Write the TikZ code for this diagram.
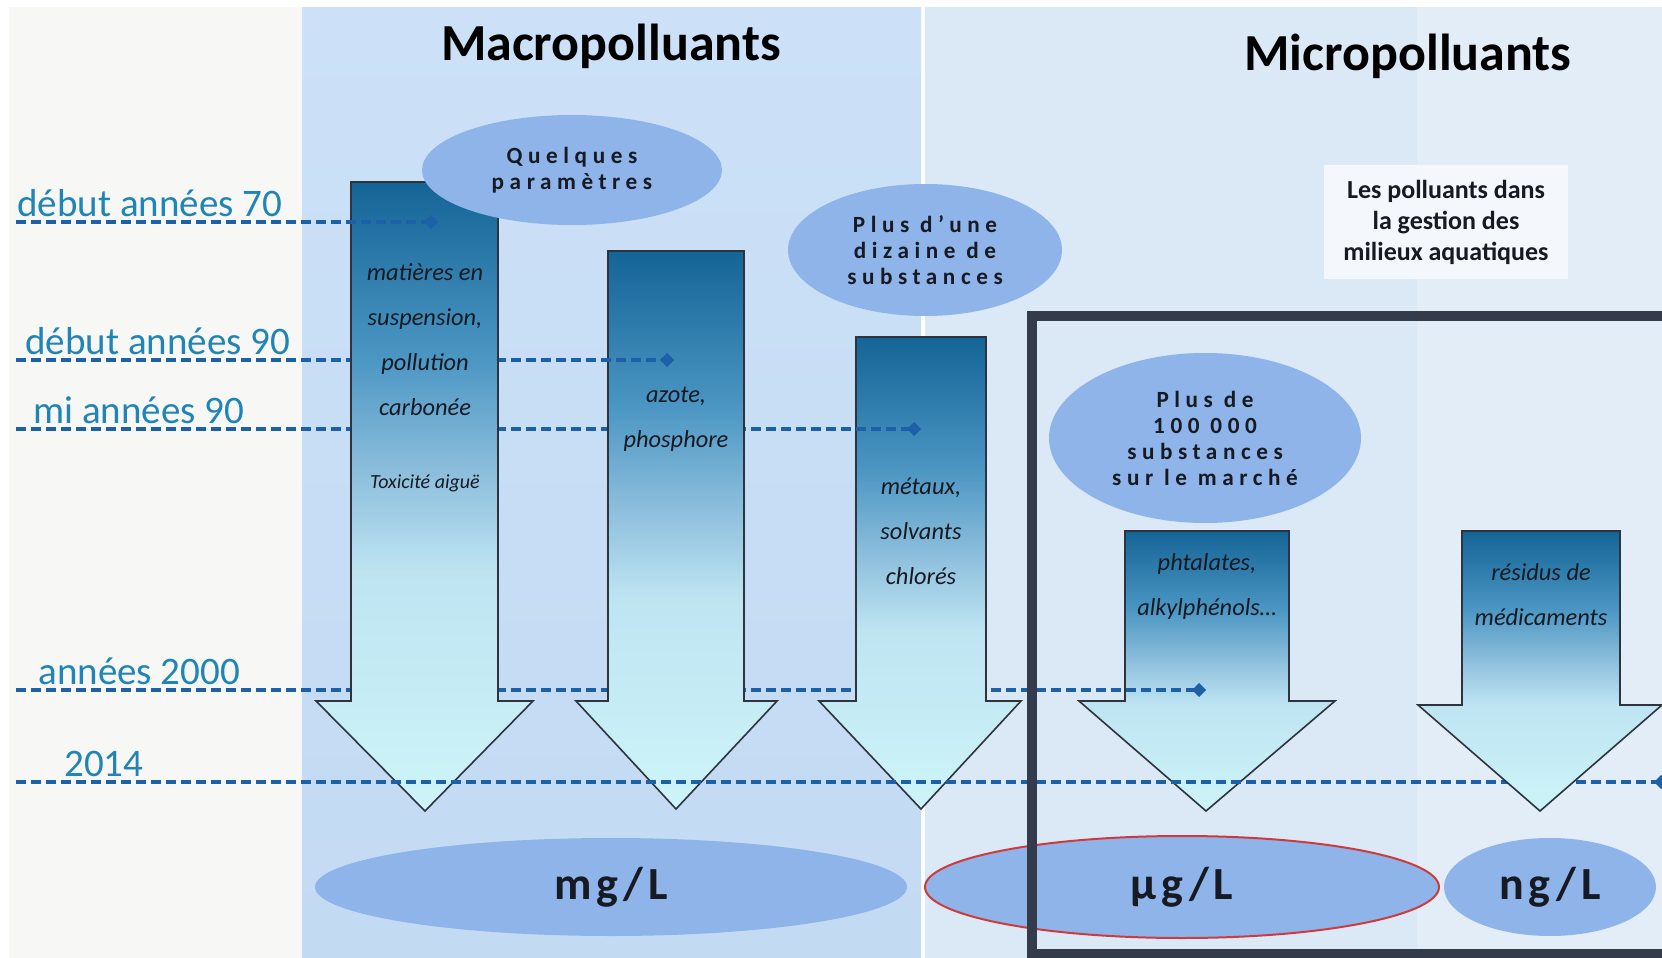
\documentclass[tikz,border=0pt]{standalone}
\usepackage{fontspec}
\setmainfont{Carlito}
\newfontfamily\espace[LetterSpace=24]{Carlito}
\newfontfamily\espaceunite[LetterSpace=10]{Carlito}
\usetikzlibrary{arrows.meta,shapes.geometric}

\definecolor{fondgauche}{RGB}{247,247,245}
\definecolor{macrohaut}{RGB}{204,225,247}
\definecolor{macrobas}{RGB}{195,218,243}
\definecolor{microfond}{RGB}{219,232,246}
\definecolor{microclair}{RGB}{227,237,248}
\definecolor{flbas}{RGB}{205,245,248}
\definecolor{flclair}{RGB}{190,228,242}
\definecolor{flmoyenb}{RGB}{140,190,220}
\definecolor{flmoyen}{RGB}{75,150,195}
\definecolor{flhaut}{RGB}{20,100,150}
\definecolor{contour}{RGB}{45,52,62}
\definecolor{bleuligne}{RGB}{28,96,168}
\definecolor{bleudate}{RGB}{32,132,182}
\definecolor{bleubulle}{RGB}{142,180,234}
\definecolor{cadrefonce}{RGB}{52,60,75}
\definecolor{rougebord}{RGB}{205,60,60}
\definecolor{encre}{RGB}{22,26,34}

\pgfdeclareverticalshading{degrade}{100bp}{color(0bp)=(flbas); color(25bp)=(flbas); color(44bp)=(flclair); color(52bp)=(flmoyenb); color(61bp)=(flmoyen); color(75bp)=(flhaut); color(100bp)=(flhaut)}

\tikzset{
  fleche/.style={shading=degrade, draw=contour, line width=0.8pt},
  repere/.style={draw=bleuligne, line width=2pt, dash pattern=on 5pt off 2.5pt, -{Diamond[length=7pt,width=7pt]}},
  date/.style={text=bleudate, font=\fontsize{19.5}{22}\selectfont, inner sep=0pt, anchor=base west},
  titre/.style={text=black, font=\bfseries\fontsize{26}{30}\selectfont, inner sep=0pt, anchor=base},
  bulle/.style={ellipse, fill=bleubulle, inner sep=0pt, align=center, text=encre, font=\espace\bfseries\fontsize{11.6}{13}\selectfont},
  unite/.style={ellipse, fill=bleubulle, inner sep=0pt, text=encre, font=\espaceunite\bfseries\fontsize{23}{26}\selectfont},
  contenu/.style={align=center, inner sep=0pt, text=encre, font=\itshape\fontsize{12.2}{22.5}\selectfont}
}

\begin{document}
\begin{tikzpicture}[x=0.5pt,y=-0.5pt]
\useasboundingbox (0,0) rectangle (1662,958);
% fonds
\fill[white] (0,0) rectangle (1662,958);
\fill[fondgauche] (9,7) rectangle (302,958);
\shade[top color=macrohaut, bottom color=macrobas] (302,7) rectangle (921,958);
\fill[microfond] (925,7) rectangle (1662,958);
\fill[microclair] (1417,7) rectangle (1662,958);

% reperes de temps
\coordinate (g70) at (16,222);   \coordinate (f70) at (438,222);
\coordinate (g90) at (16,360);   \coordinate (f90) at (674,360);
\coordinate (gmi) at (16,429);   \coordinate (fmi) at (921,429);
\coordinate (g00) at (16,690);   \coordinate (f00) at (1206,690);
\coordinate (g14) at (16,782);   \coordinate (f14) at (1668,782);

% fleche 4 puis annees 2000
\shade[fleche] (1125,531) -- (1289,531) -- (1289,701) -- (1335,701) -- (1206,811) -- (1079,701) -- (1125,701) -- cycle;
\draw[repere] (g00) -- (f00);
% fleche 3 puis mi annees 90
\shade[fleche] (856,337) -- (986,337) -- (986,701) -- (1021,701) -- (921,809) -- (819,701) -- (856,701) -- cycle;
\draw[repere] (gmi) -- (fmi);
% fleche 2 puis debut annees 90
\shade[fleche] (608,251) -- (744,251) -- (744,701) -- (777,701) -- (676,809) -- (576,701) -- (608,701) -- cycle;
\draw[repere] (g90) -- (f90);
% fleche 1 puis debut annees 70
\shade[fleche] (351,182) -- (498,182) -- (498,701) -- (533,701) -- (425,811) -- (316,701) -- (351,701) -- cycle;
\draw[repere] (g70) -- (f70);
% 2014
\draw[repere] (g14) -- (f14);
\shade[fleche] (1462,531) -- (1620,531) -- (1620,705) -- (1662,705) -- (1540,811) -- (1418,705) -- (1462,705) -- cycle;

% dates
\node[date] (d70) at (17,216) {début années 70};
\node[date] (d90) at (25,354) {début années 90};
\node[date] (dmi) at (33,423) {mi années 90};
\node[date] (d00) at (38,684) {années 2000};
\node[date] (d14) at (64,776) {2014};

% titres
\node[titre] (macro) at (611,61) {Macropolluants};
\node[titre] (micro) at (1408,70) {Micropolluants};

% bulles
\node[bulle, minimum width=150pt, minimum height=55pt] (quelques) at (572,170) {Quelques\\paramètres};
\node[bulle, minimum width=137pt, minimum height=66pt] (dizaine) at (925,250) {Plus d’une\\dizaine de\\substances};
\node[bulle, minimum width=156pt, minimum height=85pt] (marche) at (1205,438) {Plus de\\100 000\\substances\\sur le marché};

% contenu des fleches
\node[contenu] (mes) at (425,340) {matières en\\suspension,\\pollution\\carbonée};
\node[contenu, font=\itshape\fontsize{10}{12}\selectfont] (toxi) at (425,483) {Toxicité aiguë};
\node[contenu] (azote) at (676,419) {azote,\\phosphore};
\node[contenu] (metaux) at (921,531) {métaux,\\solvants\\chlorés};
\node[contenu] (phtal) at (1207,586) {phtalates,\\alkylphénols…};
\node[contenu] (resid) at (1541,595) {résidus de\\médicaments};

% unites
\node[unite, minimum width=296pt, minimum height=49pt] (mg) at (611,887) {mg/L};
\node[unite, draw=rougebord, line width=1pt, minimum width=257pt, minimum height=51pt] (mug) at (1182,887) {µg/L};
\node[unite, minimum width=106pt, minimum height=49pt] (ng) at (1550,887) {ng/L};

% encadre
\node[fill=white!70!microfond, minimum width=122pt, minimum height=57pt, align=center, inner sep=0pt, text=encre, font=\bfseries\fontsize{13}{15.5}\selectfont] (legende) at (1446,222) {Les polluants dans\\la gestion des\\milieux aquatiques};
\draw[cadrefonce, line width=5pt] (1032,316) rectangle (1690,954);
\end{tikzpicture}
\end{document}
